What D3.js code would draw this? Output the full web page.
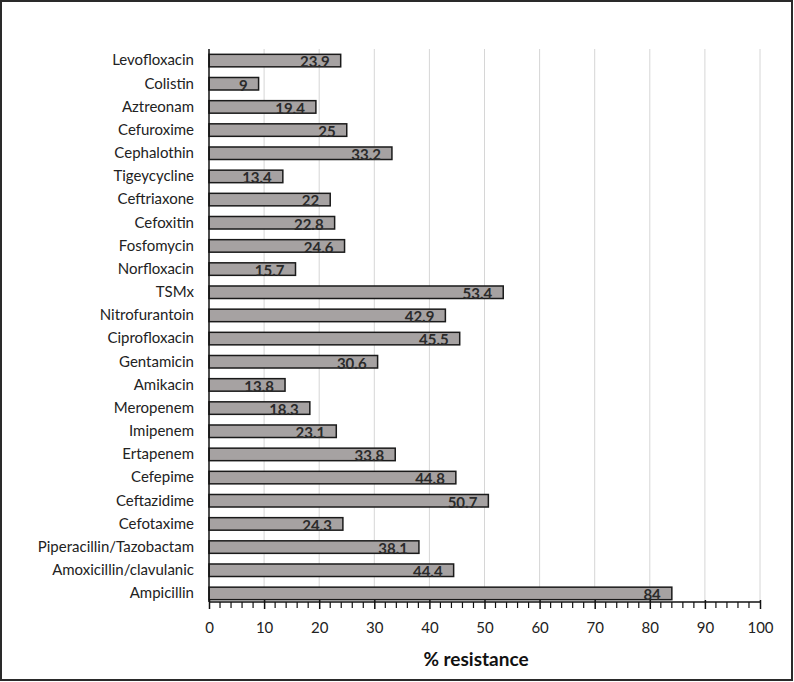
<!DOCTYPE html>
<html><head><meta charset="utf-8">
<script src="https://cdn.jsdelivr.net/npm/d3@7"></script>
<style>body{margin:0;background:#fff}svg{display:block}</style>
</head><body>
<svg id="c" width="794" height="682"></svg>
<script>
const categories = ["Levofloxacin","Colistin","Aztreonam","Cefuroxime","Cephalothin","Tigeycycline","Ceftriaxone","Cefoxitin","Fosfomycin","Norfloxacin","TSMx","Nitrofurantoin","Ciprofloxacin","Gentamicin","Amikacin","Meropenem","Imipenem","Ertapenem","Cefepime","Ceftazidime","Cefotaxime","Piperacillin/Tazobactam","Amoxicillin/clavulanic","Ampicillin"];
const values = [23.9,9,19.4,25,33.2,13.4,22,22.8,24.6,15.7,53.4,42.9,45.5,30.6,13.8,18.3,23.1,33.8,44.8,50.7,24.3,38.1,44.4,84];
const xTicks = [0,10,20,30,40,50,60,70,80,90,100];
const axisTitle = "% resistance";

const svg = d3.select("#c");
const font = "Lato, 'Open Sans', sans-serif";
const pTop = 49, pBottom = 602, pLeft = 209, pRight = 760;
const x = d3.scaleLinear().domain([0,100]).range([pLeft,pRight]);
const y = d3.scaleBand().domain(categories).range([49,605]).paddingInner(0.46).paddingOuter(0.23);

// frame
svg.append("rect").attr("x",1).attr("y",1).attr("width",791).attr("height",679)
  .attr("fill","none").attr("stroke","#2a2a2a").attr("stroke-width",2);

// gridlines
svg.append("g").selectAll("line").data(xTicks.filter(d=>d>0)).join("line")
  .attr("x1",d=>x(d)).attr("x2",d=>x(d)).attr("y1",pTop).attr("y2",pBottom)
  .attr("stroke","#d6d6d6").attr("stroke-width",1);

// bars
svg.append("g").selectAll("rect").data(values).join("rect")
  .attr("x",x(0)).attr("y",(d,i)=>y(categories[i]))
  .attr("width",d=>x(d)-x(0)).attr("height",y.bandwidth())
  .attr("fill","#a6a2a2").attr("stroke","#1a1a1a").attr("stroke-width",1.5);

// value labels
svg.append("g").selectAll("text").data(values).join("text")
  .attr("x",d=>x(d)-11).attr("y",(d,i)=>y(categories[i])+y.bandwidth()+0.5)
  .attr("text-anchor","end").attr("font-family",font).attr("font-weight","bold")
  .attr("font-size",15).attr("fill","#2b2b2b").text(d=>d);

// y axis
const yAxis = svg.append("g").attr("transform",`translate(${pLeft},0)`)
  .call(d3.axisLeft(y).tickSize(0).tickPadding(15));
yAxis.select(".domain").attr("stroke","#111").attr("stroke-width",1.5).attr("d",`M0,${pTop}V${pBottom}`);
yAxis.selectAll("text").attr("font-family",font).attr("font-size",15).attr("fill","#222");

// x axis
const xAxis = svg.append("g").attr("transform",`translate(0,${pBottom})`)
  .call(d3.axisBottom(x).tickValues(xTicks).tickSize(7).tickPadding(13).tickFormat(d3.format("d")));
xAxis.select(".domain").attr("stroke","#111").attr("stroke-width",1.5).attr("d",`M${pLeft},0H${pRight}`);
xAxis.selectAll(".tick line").attr("y1",-2).attr("y2",7).attr("stroke","#111").attr("stroke-width",1.5);
xAxis.selectAll("text").attr("font-family",font).attr("font-size",15).attr("fill","#222");
// minor ticks
const minor = d3.range(0,101,2).filter(d=>d%10!==0);
svg.append("g").selectAll("line").data(minor).join("line")
  .attr("x1",d=>x(d)).attr("x2",d=>x(d)).attr("y1",pBottom).attr("y2",pBottom+6)
  .attr("stroke","#111").attr("stroke-width",1.2);

// axis title
svg.append("text").attr("x",476).attr("y",666).attr("text-anchor","middle")
  .attr("font-family",font).attr("font-weight","bold").attr("font-size",19).attr("fill","#111")
  .text(axisTitle);
</script>
</body></html>
